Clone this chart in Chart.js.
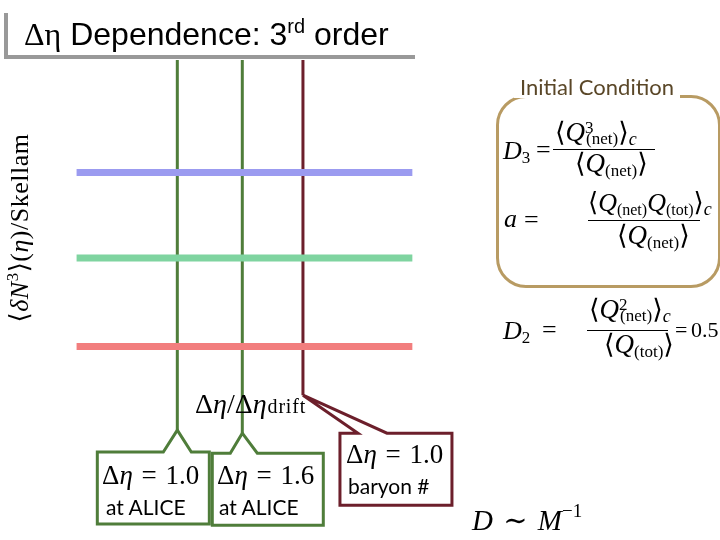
<!DOCTYPE html>
<html>
<head>
<meta charset="utf-8">
<script src="https://cdn.jsdelivr.net/npm/chart.js@4.4.1/dist/chart.umd.min.js"></script>
<style>
  html, body { margin:0; padding:0; background:#fff; }
  #wrap { position:relative; width:720px; height:540px; overflow:hidden; background:#fff; }
  #c { position:absolute; left:0; top:0; }
  .t { position:absolute; white-space:nowrap; line-height:1; color:#000; }
  .m { font-family:"Liberation Serif","DejaVu Serif",serif; }
  .i { font-style:italic; }
  .s { font-family:"Lato","Open Sans",sans-serif; }
  sub, sup { font-style:normal; }
  .bar { position:absolute; height:0; border-top:1.3px solid #000; }
</style>
</head>
<body>
<div id="wrap">
<canvas id="c" width="720" height="540"></canvas>

<!-- slide title -->
<div style="position:absolute;left:4px;top:13px;width:4px;height:46px;background:#999;"></div>
<div style="position:absolute;left:4px;top:55px;width:411px;height:4px;background:#999;"></div>
<div class="t" style="left:24px;top:16px;font-size:32px;font-family:'Liberation Sans',Arial,sans-serif;">
  <span class="m">Δη</span> Dependence: 3<sup style="font-size:20px;vertical-align:12px;">rd</sup> order</div>

<!-- axis titles -->
<div class="t m" id="ytitle" style="left:18px;top:228px;font-size:26px;letter-spacing:0.5px;transform:translate(-50%,-50%) rotate(-90deg);">⟨<span class="i">δN</span><sup style="font-size:17px;vertical-align:10px;">3</sup>⟩(<span class="i">η</span>)/Skellam</div>
<div class="t m" style="left:195px;top:390px;font-size:28px;">Δ<span class="i">η</span>/Δ<span class="i">η</span><span style="font-size:20px;margin-left:1px;letter-spacing:0.8px;">drift</span></div>

<!-- callout texts -->
<div class="t m" style="left:102px;top:462px;font-size:27px;word-spacing:2px;">Δ<span class="i">η</span> = 1.0</div>
<div class="t s" style="left:106px;top:496px;font-size:21px;">at ALICE</div>
<div class="t m" style="left:217px;top:462px;font-size:27px;word-spacing:2px;">Δ<span class="i">η</span> = 1.6</div>
<div class="t s" style="left:219px;top:496px;font-size:21px;">at ALICE</div>
<div class="t m" style="left:346px;top:441px;font-size:27px;word-spacing:2px;">Δ<span class="i">η</span> = 1.0</div>
<div class="t s" style="left:348px;top:475px;font-size:21px;">baryon #</div>

<!-- initial condition box -->
<div style="position:absolute;left:496px;top:95px;width:219px;height:187px;border:3px solid #b89b63;border-radius:30px;"></div>
<div class="t s" style="left:514px;top:76px;padding:0 6px;background:#fff;font-size:22px;color:#5a4728;">Initial Condition</div>

<!-- D3 -->
<div class="t m i" style="left:503px;top:138px;font-size:26px;">D<sub style="font-size:17px;vertical-align:-4px;">3</sub></div>
<div class="t m" style="left:536px;top:137px;font-size:26px;">=</div>
<div class="t m" style="left:555px;top:119px;font-size:27px;">⟨<span class="i">Q</span><span style="display:inline-block;font-size:17px;vertical-align:-3px;line-height:1;"><span style="display:block;margin-bottom:-6px;">3</span><span style="display:block;margin-left:1px;">(net)</span></span>⟩<span class="i" style="font-size:18px;vertical-align:-4px;">c</span></div>
<div class="bar" style="left:553px;top:149px;width:102px;"></div>
<div class="t m" style="left:575px;top:150px;font-size:27px;">⟨<span class="i">Q</span><sub style="font-size:17px;vertical-align:-4px;">(net)</sub>⟩</div>

<!-- a -->
<div class="t m i" style="left:504px;top:206px;font-size:26px;">a</div>
<div class="t m" style="left:524px;top:207px;font-size:26px;">=</div>
<div class="t m" style="left:588px;top:190px;font-size:26px;">⟨<span class="i">Q</span><sub style="font-size:16px;vertical-align:-4px;">(net)</sub><span class="i">Q</span><sub style="font-size:16px;vertical-align:-4px;">(tot)</sub>⟩<span class="i" style="font-size:18px;vertical-align:-4px;">c</span></div>
<div class="bar" style="left:588px;top:220px;width:112px;"></div>
<div class="t m" style="left:617px;top:222px;font-size:27px;">⟨<span class="i">Q</span><sub style="font-size:17px;vertical-align:-4px;">(net)</sub>⟩</div>

<!-- D2 -->
<div class="t m i" style="left:503px;top:318px;font-size:26px;">D<sub style="font-size:17px;vertical-align:-4px;">2</sub></div>
<div class="t m" style="left:542px;top:317px;font-size:26px;">=</div>
<div class="t m" style="left:589px;top:296px;font-size:27px;">⟨<span class="i">Q</span><span style="display:inline-block;font-size:17px;vertical-align:-3px;line-height:1;"><span style="display:block;margin-bottom:-6px;">2</span><span style="display:block;margin-left:1px;">(net)</span></span>⟩<span class="i" style="font-size:18px;vertical-align:-4px;">c</span></div>
<div class="bar" style="left:587px;top:330px;width:81px;"></div>
<div class="t m" style="left:604px;top:331px;font-size:27px;">⟨<span class="i">Q</span><sub style="font-size:17px;vertical-align:-4px;">(tot)</sub>⟩</div>
<div class="t m" style="left:675px;top:319px;font-size:22px;word-spacing:-2px;">= 0.5</div>

<!-- D ~ M^-1 -->
<div class="t m" style="left:472px;top:501px;font-size:29px;word-spacing:3px;"><span class="i">D</span> ∼ <span class="i">M</span><sup style="font-size:19px;vertical-align:13px;">−1</sup></div>
</div>

<script>
// ---- data ----
const xRange = [0.07, 3.17];            // extent of the horizontal bands (Δη/Δη_drift)
const seriesNames = ["high", "mid", "low"];
const seriesLevels = [0.704, 0.479, 0.246];   // ⟨δN³⟩(η)/Skellam (arbitrary units)
const markerNames = ["Δη = 1.0 at ALICE", "Δη = 1.6 at ALICE", "Δη = 1.0 baryon #"];
const markerX = [1.0, 1.6, 2.16];
const markerTop = [1.0, 1.0, 1.0];
const markerBottom = [0.026, 0.018, 0.118];

// ---- styles ----
const bandColors = ["#9b9bf0", "#7fd4a0", "#f27e7e"];
const markerColors = ["#4f7d3a", "#4f7d3a", "#6c1f2b"];
// callout geometry, relative to marker tip (pixels)
const calloutGeom = [
  {l:-80, r:32, t:22, b:94, p1:-14, p2:14},
  {l:-30, r:81, t:20, b:92, p1:-12, p2:15},
  {l:37, r:149, t:38, b:110, p1:55, p2:84}
];

const datasets = [];
seriesLevels.forEach((v, i) => {
  datasets.push({
    label: seriesNames[i],
    data: [{x: xRange[0], y: v}, {x: xRange[1], y: v}],
    borderColor: bandColors[i], borderWidth: 7, pointRadius: 0,
    showLine: true, fill: false, borderCapStyle: 'butt', clip: false
  });
});
markerX.forEach((x, i) => {
  datasets.push({
    label: markerNames[i],
    data: [{x: x, y: markerTop[i]}, {x: x, y: markerBottom[i]}],
    borderColor: markerColors[i], borderWidth: 3, pointRadius: 0,
    showLine: true, fill: false, borderCapStyle: 'butt', clip: false
  });
});

const calloutPlugin = {
  id: 'callouts',
  afterDatasetsDraw(chart) {
    const ctx = chart.ctx, xs = chart.scales.x, ys = chart.scales.y;
    markerX.forEach((x, i) => {
      const tx = xs.getPixelForValue(x), ty = ys.getPixelForValue(markerBottom[i]);
      const g = calloutGeom[i];
      ctx.save();
      ctx.lineWidth = 3;
      ctx.strokeStyle = markerColors[i];
      ctx.lineJoin = 'miter';
      ctx.beginPath();
      ctx.moveTo(tx + g.l, ty + g.t);
      ctx.lineTo(tx + g.p1, ty + g.t);
      ctx.lineTo(tx, ty);
      ctx.lineTo(tx + g.p2, ty + g.t);
      ctx.lineTo(tx + g.r, ty + g.t);
      ctx.lineTo(tx + g.r, ty + g.b);
      ctx.lineTo(tx + g.l, ty + g.b);
      ctx.closePath();
      ctx.stroke();
      ctx.restore();
    });
  }
};

new Chart(document.getElementById('c'), {
  type: 'scatter',
  data: { datasets },
  options: {
    responsive: false, animation: false,
    layout: { padding: { left: 69, right: 304.4, top: 60, bottom: 100 } },
    plugins: { legend: { display: false }, tooltip: { enabled: false } },
    scales: {
      x: { type: 'linear', min: 0, max: 3.2, display: false },
      y: { type: 'linear', min: 0, max: 1, display: false }
    }
  },
  plugins: [calloutPlugin]
});
</script>
</body>
</html>
